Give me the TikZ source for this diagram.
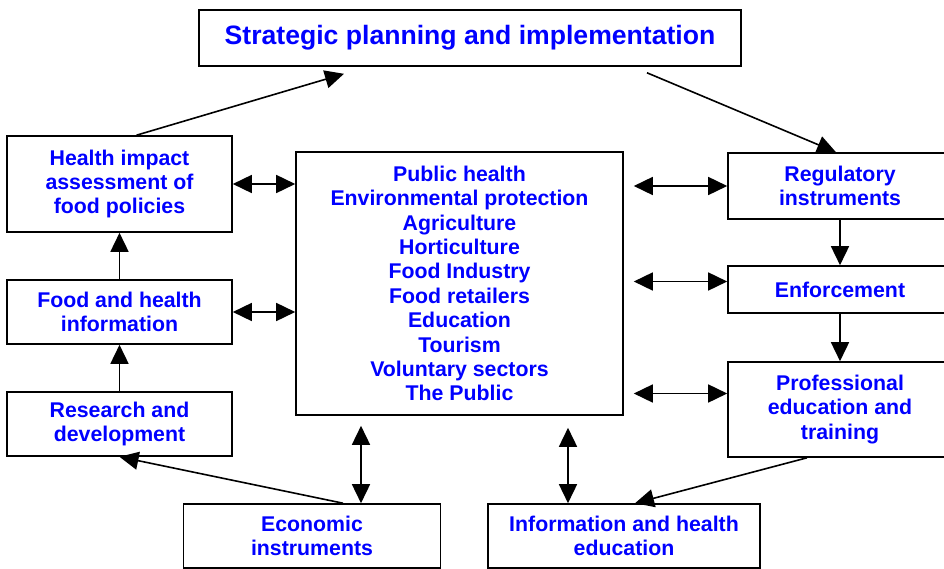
\documentclass[tikz,border=0pt]{standalone}
\usepackage{fontspec}
\setmainfont{Liberation Sans}
\usetikzlibrary{arrows.meta}

\begin{document}
\begin{tikzpicture}[x=1pt, y=-1pt,
	box/.style={draw, line width=1.6pt, inner sep=0pt, align=center, text=blue, font=\bfseries\fontsize{21.3}{24.4}\selectfont},
	arr/.style={line width=1.6pt, -{Triangle[length=19pt,width=18pt]}},
	dbl/.style={line width=1.6pt, {Triangle[length=19pt,width=18pt]}-{Triangle[length=19pt,width=18pt]}}]
	\useasboundingbox (0,0) rectangle (944,569);
	\node[box, minimum width=542pt, minimum height=56pt] (strat) at (470,38) {\fontsize{26.6}{30}\selectfont Strategic planning and implementation};
	% left column
	\node[box, minimum width=225pt, minimum height=96pt] (hia) at (119.5,184) {Health impact\\assessment of\\food policies};
	\node[box, minimum width=225pt, minimum height=64pt] (fhi) at (119.5,312) {Food and health\\information};
	\node[box, minimum width=225pt, minimum height=64pt] (rd) at (119.5,424) {Research and\\development};
	% middle
	\node[box, minimum width=327pt, minimum height=263pt] (sect) at (459.5,283.5) {Public health\\Environmental protection\\Agriculture\\Horticulture\\Food Industry\\Food retailers\\Education\\Tourism\\Voluntary sectors\\The Public};
	% right column
	\node[box, minimum width=224pt, minimum height=66pt] (reg) at (840,186) {Regulatory\\instruments};
	\node[box, minimum width=224pt, minimum height=47pt] (enf) at (840,289.5) {Enforcement};
	\node[box, minimum width=224pt, minimum height=95pt] (prof) at (840,409.5) {Professional\\education and\\training};
	% bottom row
	\node[box, minimum width=257pt, minimum height=64pt] (econ) at (312,536) {Economic\\instruments};
	\node[box, minimum width=272pt, minimum height=64pt] (info) at (624,536) {Information and health\\education};

	\coordinate (e1) at ([yshift=8pt]enf.west);
	\coordinate (p1) at ([yshift=16pt]prof.west);
	\coordinate (b1) at ([xshift=49pt]econ.north);
	\coordinate (b2) at ([xshift=-56pt]info.north);

	\draw[arr] ([xshift=17pt]hia.north) -- ([xshift=-126pt,yshift=-7pt]strat.south);
	\draw[arr] ([xshift=177pt,yshift=-6pt]strat.south) -- ([xshift=-4pt]reg.north);
	\draw[arr] (reg) -- (enf);
	\draw[arr] (enf) -- (prof);
	\draw[arr] ([xshift=-33pt]prof.south) -- ([xshift=11pt]info.north);
	\draw[arr] ([xshift=31pt]econ.north) -- (rd.south);
	\draw[arr] (rd) -- (fhi);
	\draw[arr] (fhi) -- (hia);

	\draw[dbl] (hia.east) -- (hia.east -| sect.west);
	\draw[dbl] (fhi.east) -- (fhi.east -| sect.west);
	\draw[dbl, shorten <=10pt] (reg.west -| sect.east) -- (reg.west);
	\draw[dbl, shorten <=10pt] (e1 -| sect.east) -- (e1);
	\draw[dbl, shorten <=10pt] (p1 -| sect.east) -- (p1);
	\draw[dbl, shorten <=10pt] (b1 |- sect.south) -- (b1);
	\draw[dbl, shorten <=12pt] (b2 |- sect.south) -- (b2);
\end{tikzpicture}
\end{document}
